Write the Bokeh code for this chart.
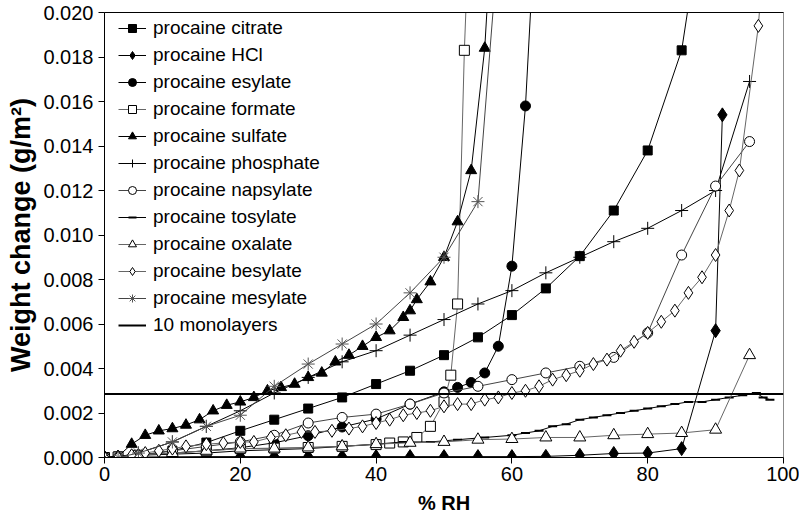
from bokeh.plotting import figure
from bokeh.models import Range1d, NumeralTickFormatter, FixedTicker, LinearAxis
from bokeh.embed import file_html
from bokeh.resources import INLINE

# ---- data ----
citrate_x = [0, 2, 5, 10, 15, 20, 25, 30, 35, 40, 45, 50, 55, 60, 65, 70, 75, 80, 85, 86.6]
citrate_y = [0, 0.00005, 0.0001, 0.0003, 0.00067, 0.0012, 0.0017, 0.0022, 0.0027, 0.0033, 0.0039,
             0.0046, 0.0054, 0.0064, 0.0076, 0.00905, 0.0111, 0.0138, 0.0183, 0.0215]

hcl_x = [0, 2, 5, 10, 15, 20, 25, 30, 35, 40, 45, 50, 55, 60, 65, 70, 75, 80, 85, 90, 91]
hcl_y = [0, 0, 0.00002, 0.00003, 0.00004, 0.00004, 0.00004, 0.00004, 0.00004, 0.00004, 0.00004,
         0.00004, 0.00004, 0.00004, 0.00005, 0.0001, 0.00018, 0.0002, 0.0004, 0.0057, 0.0154]

esylate_x = [0, 2, 5, 10, 15, 20, 25, 30, 35, 40, 45, 50, 52, 54, 56, 58, 60, 62, 63]
esylate_y = [0, 0, 0.0001, 0.0002, 0.0003, 0.00044, 0.00066, 0.00098, 0.00137, 0.00173, 0.0024,
             0.00295, 0.00315, 0.00337, 0.0038, 0.005, 0.0086, 0.0158, 0.0215]

formate_x = [0, 2, 5, 10, 15, 20, 25, 30, 35, 40, 42, 44, 46, 48, 50, 51, 52, 53, 53.4]
formate_y = [0, 0.00002, 0.0001, 0.0002, 0.0003, 0.0004, 0.00042, 0.00045, 0.0005, 0.00058, 0.00065,
             0.0007, 0.0009, 0.0014, 0.0025, 0.0037, 0.0069, 0.0183, 0.0215]

sulfate_x = [0, 2, 4, 6, 8, 10, 12, 14, 16, 18, 20, 22, 24, 26, 28, 30, 32, 34, 36, 38, 40, 42,
             44, 45, 46, 48, 50, 52, 54, 56, 56.6]
sulfate_y = [0, 0.00005, 0.0006, 0.001, 0.0012, 0.0013, 0.00146, 0.0017, 0.0021, 0.00235, 0.0025,
             0.0027, 0.003, 0.00315, 0.0033, 0.0036, 0.0038, 0.0043, 0.0046, 0.005, 0.0054, 0.0057,
             0.0063, 0.0066, 0.0071, 0.0079, 0.009, 0.0106, 0.0129, 0.0184, 0.0215]

phosphate_x = [0, 2, 5, 10, 15, 20, 25, 30, 35, 40, 45, 50, 55, 60, 65, 70, 75, 80, 85, 90, 95]
phosphate_y = [0, 0.00003, 0.0002, 0.0007, 0.0014, 0.0021, 0.0029, 0.0036, 0.0043, 0.0048, 0.0055,
               0.0062, 0.0069, 0.0075, 0.0083, 0.009, 0.0097, 0.0103, 0.0111, 0.012, 0.0169]

napsylate_x = [0, 2, 5, 10, 15, 20, 25, 30, 35, 40, 45, 50, 55, 60, 65, 70, 75, 80, 85, 90, 95]
napsylate_y = [0, 0, 0.0001, 0.0003, 0.0005, 0.0007, 0.001, 0.00155, 0.0018, 0.00195, 0.0024,
               0.0029, 0.0032, 0.0035, 0.0038, 0.0041, 0.0045, 0.0056, 0.0091, 0.0122, 0.0142]

tosylate_x = [0, 5, 10, 15, 20, 25, 30, 35, 40, 44, 48, 52, 56, 60, 62, 64, 66, 68, 70, 72, 74,
              76, 78, 80, 82, 84, 86, 88, 90, 92, 94, 96, 97, 98]
tosylate_y = [0, 0.0001, 0.00015, 0.0002, 0.0003, 0.00035, 0.0004, 0.0005, 0.0006, 0.0007, 0.0007,
              0.0008, 0.0009, 0.001, 0.0011, 0.0012, 0.0014, 0.0015, 0.0017, 0.0018, 0.0019, 0.002,
              0.0021, 0.0022, 0.0023, 0.0024, 0.0025, 0.0025, 0.0026, 0.0027, 0.0028, 0.0029,
              0.0027, 0.0026]

oxalate_x = [0, 2, 5, 10, 15, 20, 25, 30, 35, 40, 45, 50, 55, 60, 65, 70, 75, 80, 85, 90, 95]
oxalate_y = [0, 0, 0.0001, 0.0002, 0.0003, 0.0004, 0.0004, 0.00045, 0.0005, 0.0006, 0.00066, 0.0007,
             0.0008, 0.00083, 0.0009, 0.0009, 0.001, 0.00105, 0.0011, 0.00125, 0.0046]

besylate_x = [0, 2, 4, 6, 8, 10, 12, 15, 17.5, 20, 22, 24.5, 26.7, 29, 31, 33.5, 36, 38, 40, 42,
              44, 46, 48, 50, 52, 54, 56, 58, 60, 62, 64, 66, 68, 70, 72, 74, 76, 78, 80, 82, 84,
              86, 88, 90, 92, 93.5, 96.3, 96.8]
besylate_y = [0, 0, 0.0001, 0.0002, 0.0003, 0.0004, 0.0005, 0.0006, 0.00065, 0.0007, 0.0007, 0.0009,
              0.001, 0.00115, 0.00115, 0.0012, 0.0013, 0.0014, 0.00155, 0.0017, 0.0019, 0.002,
              0.0021, 0.0023, 0.0024, 0.0024, 0.0026, 0.0027, 0.0029, 0.003, 0.0032, 0.0035,
              0.0037, 0.0039, 0.0042, 0.0044, 0.0048, 0.0052, 0.0056, 0.0061, 0.0066, 0.0074,
              0.0081, 0.0091, 0.0111, 0.0129, 0.0194, 0.0215]

mesylate_x = [0, 2, 5, 10, 15, 20, 25, 30, 35, 40, 45, 50, 55, 57.6]
mesylate_y = [0, 0, 0.0002, 0.0007, 0.0014, 0.0019, 0.0032, 0.0042, 0.0051, 0.006, 0.0074, 0.009,
              0.0115, 0.0215]

monolayer_x = [0, 100]
monolayer_y = [0.00285, 0.00285]

x_ticks = [0, 20, 40, 60, 80, 100]
y_ticks = [0.000, 0.002, 0.004, 0.006, 0.008, 0.010, 0.012, 0.014, 0.016, 0.018, 0.020]

FONT = "Liberation Sans"

p = figure(width=799, height=516, output_backend="svg", toolbar_location=None,
           x_range=Range1d(0, 100), y_range=Range1d(0, 0.020),
           min_border_left=104, min_border_right=16, min_border_top=12, min_border_bottom=58)
p.background_fill_color = "white"
p.xgrid.visible = False
p.ygrid.visible = False
p.outline_line_color = "#8c8c8c"

series = [
    ("procaine citrate", citrate_x, citrate_y, "square", 9, "black", "black", "black"),
    ("procaine HCl", hcl_x, hcl_y, "diamond", 14, "black", "black", "black"),
    ("procaine esylate", esylate_x, esylate_y, "circle", 10, "black", "black", "black"),
    ("procaine formate", formate_x, formate_y, "square", 10, "white", "black", "#666666"),
    ("procaine sulfate", sulfate_x, sulfate_y, "triangle", 11, "black", "black", "black"),
    ("procaine phosphate", phosphate_x, phosphate_y, "cross", 13, "black", "black", "black"),
    ("procaine napsylate", napsylate_x, napsylate_y, "circle", 10, "white", "black", "#444444"),
    ("procaine tosylate", tosylate_x, tosylate_y, "dash", 9, "black", "black", "black"),
    ("procaine oxalate", oxalate_x, oxalate_y, "triangle", 12, "white", "black", "#666666"),
    ("procaine besylate", besylate_x, besylate_y, "diamond", 13, "white", "black", "#666666"),
    ("procaine mesylate", mesylate_x, mesylate_y, "asterisk", 13, "white", "#555555", "#444444"),
]

for name, xs, ys, marker, size, fill, mline, lcolor in series:
    p.line(xs, ys, line_color=lcolor, line_width=1, legend_label=name)
    lw = 2 if marker == "dash" else 1
    p.scatter(xs, ys, marker=marker, size=size, fill_color=fill, line_color=mline,
              line_width=lw, legend_label=name)

p.line(monolayer_x, monolayer_y, line_color="black", line_width=2, legend_label="10 monolayers")

# axes
for ax in (p.xaxis[0], p.yaxis[0]):
    ax.axis_line_color = "black"
    ax.major_tick_line_color = "black"
    ax.major_tick_out = 6
    ax.major_tick_in = 0
    ax.minor_tick_line_color = None
    ax.major_label_text_font = FONT
    ax.major_label_text_font_size = "20px"
    ax.major_label_text_color = "black"
    ax.axis_label_text_font = FONT
    ax.axis_label_text_font_style = "bold"
    ax.axis_label_text_color = "black"

p.xaxis[0].ticker = FixedTicker(ticks=x_ticks)
p.yaxis[0].ticker = FixedTicker(ticks=y_ticks)
p.yaxis[0].formatter = NumeralTickFormatter(format="0.000")
p.xaxis[0].axis_label = "% RH"
p.xaxis[0].axis_label_text_font_size = "20px"
p.xaxis[0].major_label_standoff = 3
p.xaxis[0].axis_label_standoff = 8
p.yaxis[0].axis_label = "Weight change (g/m²)"
p.yaxis[0].axis_label_text_font_size = "27px"
p.yaxis[0].major_label_standoff = 5
p.yaxis[0].axis_label_standoff = 4

top_axis = LinearAxis(ticker=FixedTicker(ticks=[]), major_label_text_font_size="0px",
                      axis_line_color="black", major_tick_line_color=None,
                      minor_tick_line_color=None)
p.add_layout(top_axis, "above")

lg = p.legend[0]
lg.location = (14, 121)
lg.margin = 0
lg.padding = 4
lg.spacing = 5
lg.glyph_width = 28
lg.glyph_height = 20
lg.label_height = 20
lg.label_standoff = 7
lg.label_text_font = FONT
lg.label_text_font_size = "19px"
lg.label_text_color = "black"
lg.border_line_color = None
lg.background_fill_alpha = 0

open("out.html", "w").write(file_html(p, INLINE))
